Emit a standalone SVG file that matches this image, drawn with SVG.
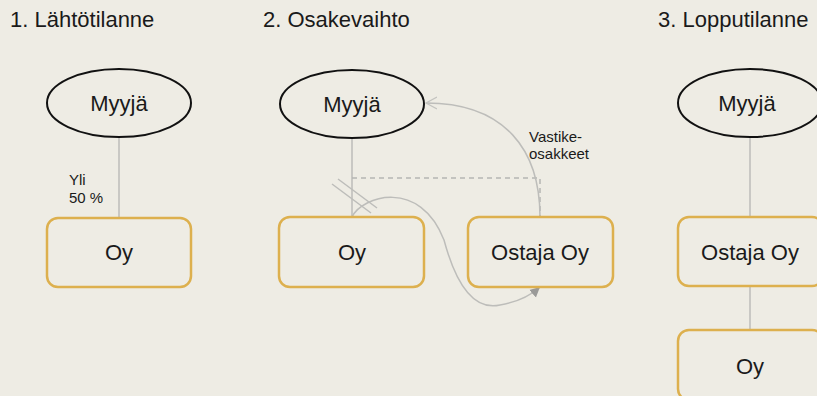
<svg xmlns="http://www.w3.org/2000/svg" width="817" height="396" viewBox="0 0 817 396">
<defs>
<style>
text{font-family:'Liberation Sans',Arial,Helvetica,sans-serif;fill:#1a1a1a}
.title{font-size:22px}
.lbl{font-size:22px;text-anchor:middle}
.small{font-size:15px}
.ell{fill:none;stroke:#111;stroke-width:2}
.box{fill:none;stroke:#DDB04E;stroke-width:2.5}
.ln{fill:none;stroke:#BDBDBA;stroke-width:1.5}
.dash{fill:none;stroke:#B5B5B2;stroke-width:1.5;stroke-dasharray:5 4}
</style>
<marker id="open" markerWidth="14" markerHeight="14" refX="11" refY="7" orient="auto" markerUnits="userSpaceOnUse">
<path d="M0,1 L11,7 L0,13" fill="none" stroke="#C4C4C0" stroke-width="1.3"/>
</marker>
<marker id="fill" markerWidth="12" markerHeight="12" refX="10" refY="6" orient="auto" markerUnits="userSpaceOnUse">
<path d="M0,1 L10,6 L0,11 Z" fill="#9A9A98"/>
</marker>
</defs>
<rect width="817" height="396" fill="#EEECE4"/>
<g font-family="'Liberation Sans', Arial, sans-serif">
<text class="title" x="10" y="27">1. Lähtötilanne</text>
<text class="title" x="263" y="27">2. Osakevaihto</text>
<text class="title" x="658" y="27">3. Lopputilanne</text>
<g id="connectors">
<line class="ln" x1="119" y1="137" x2="119" y2="218"/>
<line class="ln" x1="352" y1="138" x2="352" y2="217"/>
<path class="dash" d="M352,178 H540 V217"/>
<path class="ln" d="M540,217 C540,150 505,103 426,103" marker-end="url(#open)"/>
<path class="ln" d="M352,217 C362,196 420,178 444,240 C458,292 478,310 500,305 C518,302 530,296 540,287" marker-end="url(#fill)"/>
<line class="ln" x1="338" y1="179" x2="377" y2="208"/>
<line class="ln" x1="332" y1="184" x2="371" y2="213"/>
<line class="ln" x1="750" y1="137" x2="750" y2="217"/>
<line class="ln" x1="750" y1="286" x2="750" y2="330"/>
</g>
<text class="small" x="69" y="185">Yli</text>
<text class="small" x="69" y="203">50 %</text>
<text class="small" x="529" y="142">Vastike-</text>
<text class="small" x="529" y="159">osakkeet</text>
<g id="myyja1"><ellipse class="ell" cx="119" cy="103" rx="72" ry="34"/><text class="lbl" x="119" y="111">Myyjä</text></g>
<g id="oy1"><rect class="box" x="47" y="218" width="144" height="69" rx="11"/><text class="lbl" x="119" y="260">Oy</text></g>
<g id="myyja2"><ellipse class="ell" cx="352" cy="104" rx="72" ry="34"/><text class="lbl" x="352" y="112">Myyjä</text></g>
<g id="oy2"><rect class="box" x="279" y="217" width="145" height="70" rx="11"/><text class="lbl" x="352" y="260">Oy</text></g>
<g id="ostaja2"><rect class="box" x="468" y="217" width="145" height="70" rx="11"/><text class="lbl" x="540" y="260">Ostaja Oy</text></g>
<g id="myyja3"><ellipse class="ell" cx="750" cy="103" rx="72" ry="34"/><text class="lbl" x="747" y="111">Myyjä</text></g>
<g id="ostaja3"><rect class="box" x="678" y="217" width="145" height="69" rx="11"/><text class="lbl" x="750" y="260">Ostaja Oy</text></g>
<g id="oy3"><rect class="box" x="678" y="330" width="145" height="70" rx="11"/><text class="lbl" x="750" y="374">Oy</text></g>
</g>
</svg>
